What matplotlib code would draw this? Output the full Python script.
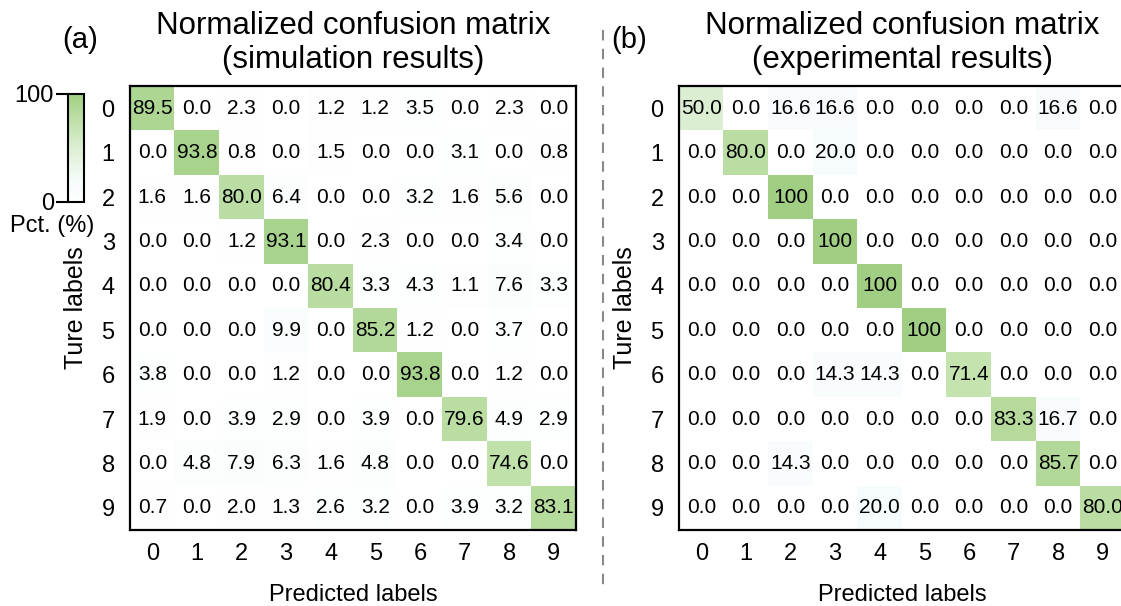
import numpy as np
import matplotlib
matplotlib.use('Agg')
import matplotlib.pyplot as plt
from matplotlib.colors import LinearSegmentedColormap
from matplotlib.lines import Line2D

plt.rcParams['font.family'] = ['Liberation Sans', 'DejaVu Sans']

labels = [str(i) for i in range(10)]

# simulation results (%)
sim = np.array([
    [89.5, 0.0, 2.3, 0.0, 1.2, 1.2, 3.5, 0.0, 2.3, 0.0],
    [0.0, 93.8, 0.8, 0.0, 1.5, 0.0, 0.0, 3.1, 0.0, 0.8],
    [1.6, 1.6, 80.0, 6.4, 0.0, 0.0, 3.2, 1.6, 5.6, 0.0],
    [0.0, 0.0, 1.2, 93.1, 0.0, 2.3, 0.0, 0.0, 3.4, 0.0],
    [0.0, 0.0, 0.0, 0.0, 80.4, 3.3, 4.3, 1.1, 7.6, 3.3],
    [0.0, 0.0, 0.0, 9.9, 0.0, 85.2, 1.2, 0.0, 3.7, 0.0],
    [3.8, 0.0, 0.0, 1.2, 0.0, 0.0, 93.8, 0.0, 1.2, 0.0],
    [1.9, 0.0, 3.9, 2.9, 0.0, 3.9, 0.0, 79.6, 4.9, 2.9],
    [0.0, 4.8, 7.9, 6.3, 1.6, 4.8, 0.0, 0.0, 74.6, 0.0],
    [0.7, 0.0, 2.0, 1.3, 2.6, 3.2, 0.0, 3.9, 3.2, 83.1],
])

# experimental results (%)
exp = np.array([
    [50.0, 0.0, 16.6, 16.6, 0.0, 0.0, 0.0, 0.0, 16.6, 0.0],
    [0.0, 80.0, 0.0, 20.0, 0.0, 0.0, 0.0, 0.0, 0.0, 0.0],
    [0.0, 0.0, 100, 0.0, 0.0, 0.0, 0.0, 0.0, 0.0, 0.0],
    [0.0, 0.0, 0.0, 100, 0.0, 0.0, 0.0, 0.0, 0.0, 0.0],
    [0.0, 0.0, 0.0, 0.0, 100, 0.0, 0.0, 0.0, 0.0, 0.0],
    [0.0, 0.0, 0.0, 0.0, 0.0, 100, 0.0, 0.0, 0.0, 0.0],
    [0.0, 0.0, 0.0, 14.3, 14.3, 0.0, 71.4, 0.0, 0.0, 0.0],
    [0.0, 0.0, 0.0, 0.0, 0.0, 0.0, 0.0, 83.3, 16.7, 0.0],
    [0.0, 0.0, 14.3, 0.0, 0.0, 0.0, 0.0, 0.0, 85.7, 0.0],
    [0.0, 0.0, 0.0, 0.0, 20.0, 0.0, 0.0, 0.0, 0.0, 80.0],
])

cmap = LinearSegmentedColormap.from_list('wg', [
    (0.0, '#ffffff'), (0.2, '#f6fbfb'), (0.5, '#dcefd2'),
    (0.75, '#c0e1aa'), (1.0, '#a0cf83')])

fig = plt.figure(figsize=(11.21, 6.06), dpi=100)
W, H = 1121, 606

def panel(left, data, title, tag):
    ax = fig.add_axes([left / W, 1 - 530 / H, 446 / W, 444 / H])
    im = ax.imshow(data, cmap=cmap, vmin=0, vmax=100, aspect='auto')
    for i in range(10):
        for j in range(10):
            v = data[i, j]
            s = '100' if v == 100 else '%.1f' % v
            ax.text(j, i, s, ha='center', va='center', fontsize=15)
    ax.set_xticks(range(10))
    ax.set_yticks(range(10))
    ax.set_xticklabels(labels, fontsize=17)
    ax.set_yticklabels(labels, fontsize=17)
    ax.tick_params(length=0, pad=11)
    ax.tick_params(axis='x', pad=9)
    for sp in ax.spines.values():
        sp.set_linewidth(1.6)
    ax.set_xlabel('Predicted labels', fontsize=17, labelpad=14)
    ax.set_ylabel('Ture labels', fontsize=18, labelpad=10)
    ax.set_title(title, fontsize=22.5, linespacing=1.15, pad=13)
    fig.text((left - 50) / W, 1 - 40 / H, tag, fontsize=21, ha='center', va='center')
    return im

im = panel(130, sim, 'Normalized confusion matrix\n(simulation results)', '(a)')
panel(679, exp, 'Normalized confusion matrix\n(experimental results)', '(b)')

# colorbar
cax = fig.add_axes([68 / W, 1 - 202 / H, 16 / W, 108 / H])
cb = fig.colorbar(im, cax=cax, ticks=[0, 100])
cb.ax.yaxis.set_ticks_position('left')
cb.ax.tick_params(length=9, width=1.5, labelsize=17, pad=1)
cb.outline.set_linewidth(1.5)
fig.text(52 / W, 1 - 226 / H, 'Pct. (%)', fontsize=17, ha='center', va='center')

# dashed separator
fig.add_artist(Line2D([603 / W, 603 / W], [1 - 30 / H, 1 - 592 / H],
                      transform=fig.transFigure, color='#888888',
                      linestyle=(0, (5, 4)), linewidth=1.5))

fig.savefig('out.png', dpi=100)
